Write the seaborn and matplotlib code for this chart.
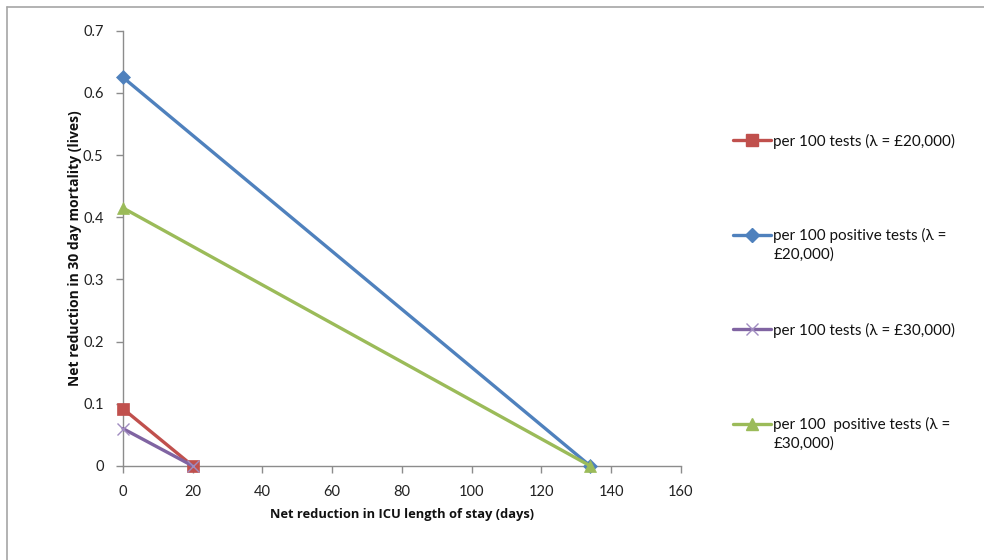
import matplotlib
matplotlib.use("Agg")
import matplotlib.pyplot as plt
import seaborn as sns
import pandas as pd
from matplotlib.lines import Line2D

sns.set_theme(style="white")
plt.rcParams['font.family'] = ['Lato', 'DejaVu Sans']

# Data
series_first = [
    "per 100 tests (λ = £20,000)",
    "per 100 positive tests (λ =",
    "per 100 tests (λ = £30,000)",
    "per 100  positive tests (λ =",
]
series_second = ["", "£20,000)", "", "£30,000)"]
red_x = [0, 20]
red_y = [0.092, 0.0]
blue_x = [0, 134]
blue_y = [0.625, 0.0]
purple_x = [0, 20]
purple_y = [0.06, 0.0]
green_x = [0, 134]
green_y = [0.415, 0.0]

xs = [red_x, blue_x, purple_x, green_x]
ys = [red_y, blue_y, purple_y, green_y]
colors = ["#C0504D", "#4F81BD", "#8064A2", "#9BBB59"]
markers = ["s", "D", "x", "^"]
msizes = [9, 7, 9, 9]

x_ticks = [0, 20, 40, 60, 80, 100, 120, 140, 160]
y_ticks = [0, 0.1, 0.2, 0.3, 0.4, 0.5, 0.6, 0.7]
y_tick_labels = ["0", "0.1", "0.2", "0.3", "0.4", "0.5", "0.6", "0.7"]

rows = []
for name, xv, yv in zip(series_first, xs, ys):
    for a, b in zip(xv, yv):
        rows.append({"series": name, "x": a, "y": b})
df = pd.DataFrame(rows)

fig = plt.figure(figsize=(9.84, 5.6), dpi=100)
ax = fig.add_axes([0.125, 0.168, 0.567, 0.777])

for i, name in enumerate(series_first):
    sub = df[df["series"] == name]
    mcol = "#A08CC0" if markers[i] == "x" else colors[i]
    sns.lineplot(data=sub, x="x", y="y", ax=ax, color=colors[i], linewidth=2.4,
                 marker=markers[i], markersize=msizes[i], markerfacecolor=mcol,
                 markeredgecolor=mcol, markeredgewidth=1.0 if markers[i] == "x" else 0.5,
                 legend=False, zorder=3 + i, clip_on=False)

ax.set_xlim(0, 160)
ax.set_ylim(0, 0.7)
ax.set_xticks(x_ticks)
ax.set_yticks(y_ticks)
ax.set_yticklabels(y_tick_labels)
ax.tick_params(axis="both", which="both", direction="out", length=5, width=1,
               color="#8C8C8C", labelsize=10.5, labelcolor="#222222",
               bottom=True, left=True)
ax.tick_params(axis="x", pad=9)
ax.tick_params(axis="y", pad=9)
for s in ["top", "right"]:
    ax.spines[s].set_visible(False)
for s in ["left", "bottom"]:
    ax.spines[s].set_color("#8C8C8C")
    ax.spines[s].set_linewidth(1.0)

ax.set_xlabel("Net reduction in ICU length of stay (days)", fontsize=9.3,
              fontweight="bold", labelpad=6, color="#111111",
              family=['Open Sans', 'DejaVu Sans'])
ax.set_ylabel("Net reduction in 30 day mortality (lives)", fontsize=10.0,
              fontweight="bold", color="#111111",
              family=['Open Sans', 'DejaVu Sans'])
ax.yaxis.set_label_coords(-0.074, 0.5)

handles = []
for i in range(4):
    mcol = "#A08CC0" if markers[i] == "x" else colors[i]
    handles.append(Line2D([0], [0], color=colors[i], linewidth=2.4, marker=markers[i],
                          markersize=msizes[i], markerfacecolor=mcol, markeredgecolor=mcol))
leg = fig.legend(handles, series_first, loc="upper left", bbox_to_anchor=(0.737, 0.775),
                 frameon=False, fontsize=11, handlelength=2.5, handletextpad=0.15,
                 labelspacing=5.2, borderpad=0)
for t in leg.get_texts():
    t.set_color("#111111")

fig.canvas.draw()
inv = fig.transFigure.inverted()
for t, extra in zip(leg.get_texts(), series_second):
    if extra:
        bb = t.get_window_extent()
        x0, y0 = inv.transform((bb.x0, bb.y0))
        fig.text(x0, y0 - 0.007, extra, ha="left", va="top", fontsize=11, color="#111111")

# figure frame (left and top edges)
fig.add_artist(Line2D([0.0071, 0.0071], [0.0, 0.9875], transform=fig.transFigure,
                      color="#A6A6A6", linewidth=1.2))
fig.add_artist(Line2D([0.0071, 1.0], [0.9875, 0.9875], transform=fig.transFigure,
                      color="#A6A6A6", linewidth=1.2))

fig.savefig("out.png", dpi=100)
